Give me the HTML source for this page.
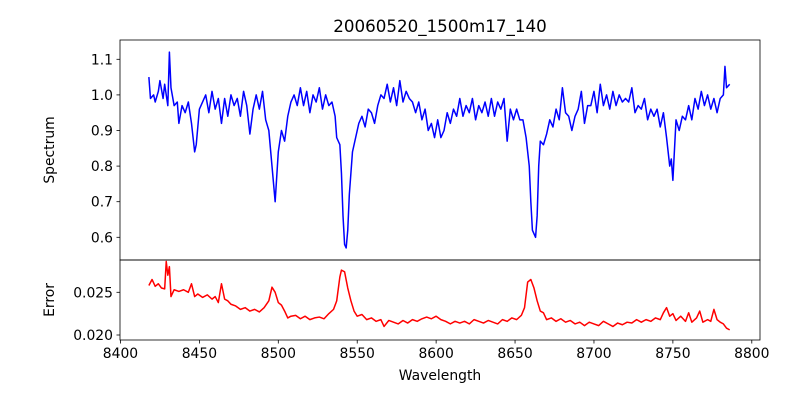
<!DOCTYPE html>
<html><head><meta charset="utf-8"><style>
html,body{margin:0;padding:0;background:#fff}
svg text{font-family:"DejaVu Sans","Liberation Sans",sans-serif;fill:#000}
</style></head><body>
<svg id="chart" width="800" height="400" viewBox="0 0 800 400" xmlns="http://www.w3.org/2000/svg">
<rect width="800" height="400" fill="#fff"/>
<text x="440" y="32" font-size="16.7" text-anchor="middle">20060520_1500m17_140</text>
<g id="top"></g><g id="bot"></g>
<text x="440" y="380" font-size="13.9" text-anchor="middle">Wavelength</text>
<text transform="translate(54,150) rotate(-90)" font-size="13.9" text-anchor="middle">Spectrum</text>
<text transform="translate(54,300) rotate(-90)" font-size="13.9" text-anchor="middle">Error</text>
</svg>
<script>
const specWl=[8418,8419,8421,8422,8424,8425,8427,8428,8430,8431,8432,8434,8436,8437,8439,8441,8443,8445,8447,8448,8450,8452,8454,8456,8458,8460,8462,8464,8466,8468,8470,8472,8474,8476,8478,8480,8482,8484,8486,8488,8490,8492,8494,8496,8498,8500,8502,8504,8506,8508,8510,8512,8514,8516,8518,8520,8522,8524,8526,8528,8530,8532,8534,8536,8537,8539,8540,8541,8542,8543,8544,8545,8547,8549,8551,8553,8555,8557,8559,8561,8563,8565,8567,8569,8571,8573,8575,8577,8579,8581,8583,8585,8587,8589,8591,8593,8595,8597,8599,8601,8603,8605,8607,8609,8611,8613,8615,8617,8619,8621,8623,8625,8627,8629,8631,8633,8635,8637,8639,8641,8643,8645,8647,8649,8651,8653,8655,8657,8659,8660,8661,8663,8664,8665,8666,8668,8670,8672,8674,8676,8678,8680,8682,8684,8686,8688,8690,8692,8694,8696,8698,8700,8702,8704,8706,8708,8710,8712,8714,8716,8718,8720,8722,8724,8726,8728,8730,8732,8734,8736,8738,8740,8742,8744,8746,8747,8748,8749,8750,8752,8754,8756,8758,8760,8762,8764,8766,8768,8770,8772,8774,8776,8778,8780,8782,8783,8784,8786];
const specVal=[1.05,0.99,1.00,0.98,1.01,1.04,0.99,1.03,0.97,1.12,1.02,0.97,0.98,0.92,0.97,0.95,0.98,0.92,0.84,0.86,0.96,0.98,1.00,0.95,1.01,0.96,0.99,0.92,0.99,0.94,1.00,0.97,0.99,0.94,1.01,0.97,0.89,0.96,1.00,0.96,1.01,0.93,0.90,0.80,0.70,0.84,0.90,0.87,0.94,0.98,1.00,0.97,1.02,0.97,1.01,0.95,1.00,0.98,1.02,0.96,1.00,0.97,0.98,0.94,0.88,0.86,0.78,0.66,0.58,0.57,0.62,0.72,0.84,0.88,0.92,0.94,0.91,0.96,0.95,0.92,0.97,1.00,0.99,1.03,0.98,1.02,0.97,1.04,0.98,1.01,0.99,0.98,0.95,0.98,0.93,0.96,0.90,0.92,0.88,0.93,0.88,0.90,0.95,0.92,0.96,0.94,0.99,0.94,0.97,0.95,0.99,0.93,0.97,0.95,0.98,0.94,0.99,0.94,0.98,0.96,0.99,0.87,0.96,0.93,0.96,0.93,0.93,0.88,0.80,0.70,0.62,0.60,0.66,0.80,0.87,0.86,0.89,0.93,0.91,0.96,0.93,1.02,0.95,0.94,0.90,0.94,0.96,1.01,0.92,0.97,0.97,1.01,0.95,1.03,0.97,1.00,0.96,1.01,0.97,1.00,0.98,0.99,0.98,1.02,0.95,0.97,0.96,0.99,0.93,0.96,0.94,0.96,0.91,0.95,0.88,0.84,0.80,0.82,0.76,0.93,0.90,0.94,0.93,0.97,0.93,0.99,0.96,1.01,0.97,1.00,0.96,0.99,0.95,0.99,1.00,1.08,1.02,1.03];
const errWl=[8418,8420,8422,8424,8426,8428,8429,8430,8431,8432,8434,8437,8440,8443,8445,8447,8449,8452,8455,8458,8460,8462,8464,8466,8468,8470,8473,8476,8479,8482,8485,8488,8491,8494,8496,8498,8500,8502,8504,8506,8508,8511,8514,8517,8520,8523,8526,8529,8532,8535,8537,8539,8540,8542,8544,8546,8548,8550,8553,8556,8559,8562,8565,8567,8570,8573,8576,8579,8582,8585,8588,8591,8594,8597,8600,8603,8606,8609,8612,8615,8618,8621,8624,8627,8630,8633,8636,8639,8642,8645,8648,8651,8654,8656,8658,8660,8662,8664,8666,8668,8670,8673,8676,8679,8682,8685,8688,8691,8694,8697,8700,8703,8706,8709,8712,8715,8718,8721,8724,8727,8730,8733,8736,8739,8742,8744,8746,8748,8750,8752,8755,8758,8760,8762,8765,8767,8769,8772,8774,8776,8778,8780,8782,8784,8786];
const errVal=[0.0258,0.0265,0.0257,0.0260,0.0255,0.0254,0.0286,0.0270,0.0280,0.0245,0.0253,0.0251,0.0253,0.0250,0.0260,0.0245,0.0248,0.0244,0.0247,0.0242,0.0245,0.0238,0.0260,0.0242,0.0240,0.0236,0.0234,0.0230,0.0232,0.0228,0.0230,0.0227,0.0232,0.0240,0.0256,0.0250,0.0238,0.0235,0.0228,0.0220,0.0222,0.0223,0.0219,0.0222,0.0218,0.0220,0.0221,0.0219,0.0225,0.0230,0.0240,0.0268,0.0276,0.0274,0.0255,0.0240,0.0228,0.0222,0.0224,0.0218,0.0220,0.0216,0.0218,0.0210,0.0217,0.0215,0.0213,0.0217,0.0214,0.0218,0.0216,0.0219,0.0221,0.0219,0.0222,0.0218,0.0216,0.0213,0.0216,0.0214,0.0216,0.0213,0.0218,0.0216,0.0214,0.0217,0.0215,0.0213,0.0218,0.0216,0.0220,0.0218,0.0223,0.0232,0.0262,0.0265,0.0255,0.0240,0.0228,0.0226,0.0218,0.0220,0.0216,0.0219,0.0215,0.0217,0.0213,0.0215,0.0211,0.0215,0.0213,0.0211,0.0216,0.0213,0.0210,0.0214,0.0212,0.0215,0.0214,0.0218,0.0215,0.0218,0.0216,0.0220,0.0218,0.0226,0.0232,0.0222,0.0225,0.0217,0.0222,0.0216,0.0226,0.0215,0.0220,0.0228,0.0215,0.0218,0.0216,0.0230,0.0218,0.0215,0.0213,0.0208,0.0206];
const xTicks=[8400,8450,8500,8550,8600,8650,8700,8750,8800];
const specTicks=[0.6,0.7,0.8,0.9,1.0,1.1];
const errTicks=[0.020,0.025];
const NS='http://www.w3.org/2000/svg';
const X0=120,X1=760,WMIN=8399.7,WMAX=8805.2;
const xs=w=>X0+(w-WMIN)/(WMAX-WMIN)*(X1-X0);
const ySpec=v=>59.3+(1.1-v)*356;
const yErr=v=>292.3+(0.025-v)*8540;
function mk(tag,attrs,parent){const e=document.createElementNS(NS,tag);for(const k in attrs)e.setAttribute(k,attrs[k]);parent.appendChild(e);return e;}
function panel(g,top,bot,wl,vals,yf,ticks,fmt,color,name){
  const d=wl.map((w,i)=>(i?'L':'M')+xs(w).toFixed(2)+','+yf(vals[i]).toFixed(2)).join('');
  const p=mk('path',{d:d,fill:'none',stroke:color,'stroke-width':1.5,'stroke-linejoin':'round'},g);
  
  
  ticks.forEach(t=>{const y=yf(t);
    const l=mk('line',{x1:X0-3.5,x2:X0,y1:y,y2:y,stroke:'#000','stroke-width':0.8},g);
    
    
    const tx=mk('text',{x:X0-7,y:y+5,'font-size':13.9,'text-anchor':'end'},g);
    tx.textContent=fmt(t);
    
    
  });
  const r=mk('rect',{x:X0,y:top,width:X1-X0,height:bot-top,fill:'none',stroke:'#000','stroke-width':0.8},g);
  
  
}
const gt=document.getElementById('top'),gb=document.getElementById('bot');
panel(gt,40,260,specWl,specVal,ySpec,specTicks,t=>t.toFixed(1),'#0000ff','spectrum');
panel(gb,260,340,errWl,errVal,yErr,errTicks,t=>t.toFixed(3),'#ff0000','error');
xTicks.forEach(t=>{const x=xs(t);
  const l=mk('line',{x1:x,x2:x,y1:340,y2:343.5,stroke:'#000','stroke-width':0.8},gb);
  
  
  const tx=mk('text',{x:x,y:358,'font-size':13.9,'text-anchor':'middle'},gb);
  tx.textContent=t;
  
  
});
</script>
</body></html>
